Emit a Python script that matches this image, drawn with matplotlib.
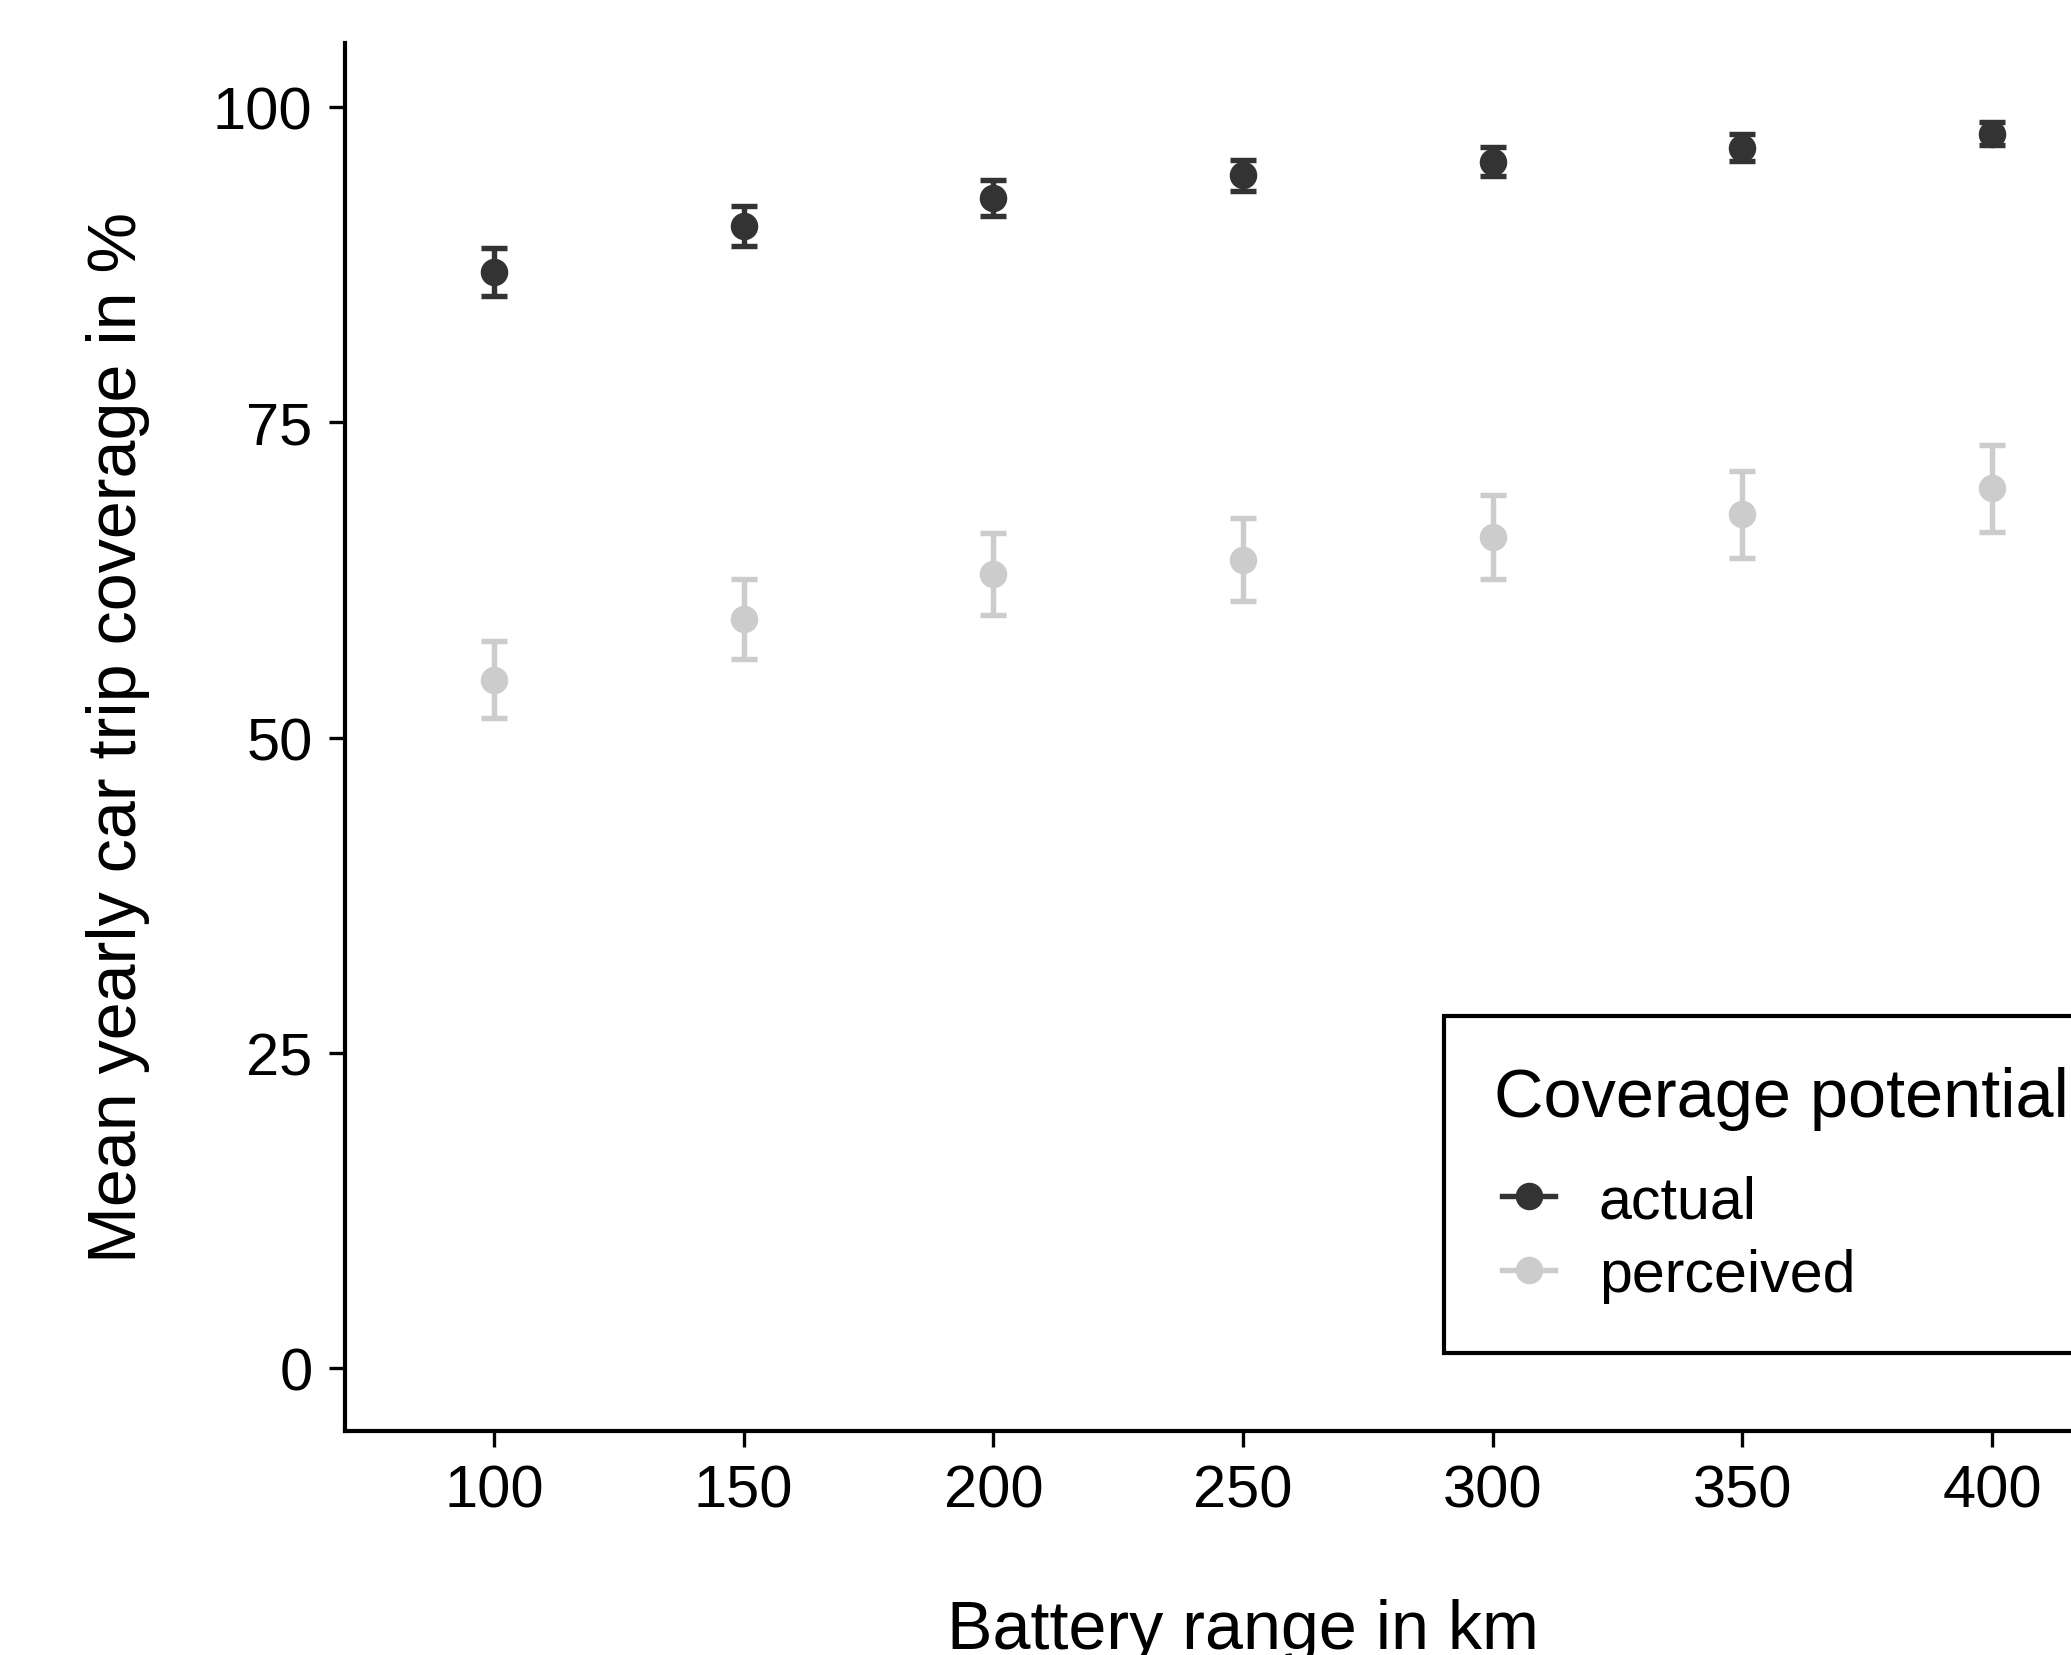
import matplotlib
matplotlib.use("Agg")
import matplotlib.pyplot as plt
from matplotlib.lines import Line2D
from matplotlib.legend_handler import HandlerLine2D

plt.rcParams['font.family'] = ['Liberation Sans', 'DejaVu Sans']

# ---- data ----
battery_range = [100, 150, 200, 250, 300, 350, 400]
actual_mean = [86.9, 90.6, 92.8, 94.6, 95.7, 96.8, 97.9]
actual_err = [1.9, 1.6, 1.45, 1.25, 1.15, 1.05, 0.9]
perceived_mean = [54.6, 59.4, 63.0, 64.1, 65.9, 67.7, 69.8]
perceived_err = [3.05, 3.15, 3.25, 3.3, 3.35, 3.45, 3.45]
series_labels = ["actual", "perceived"]
series_colors = ["#333333", "#cccccc"]
xticks = [100, 150, 200, 250, 300, 350, 400]
yticks = [0, 25, 50, 75, 100]

W, H, DPI = 2071, 1656, 300
fig = plt.figure(figsize=(W / DPI, H / DPI), dpi=DPI)
left, bottom, top = 345 / W, 1 - 1432 / H, 1 - 44 / H
right_px = 2141
ax = fig.add_axes([left, bottom, right_px / W - left, top - bottom])

for means, errs, col in [(actual_mean, actual_err, series_colors[0]),
                         (perceived_mean, perceived_err, series_colors[1])]:
    ax.errorbar(battery_range, means, yerr=errs, fmt='o', color=col,
                ecolor=col, elinewidth=1.3, capsize=3.1, capthick=1.3,
                markersize=5.6, zorder=3)

ax.set_xlim(70.15, 429.85)
ax.set_ylim(-5.0, 105.1)
ax.set_xticks(xticks)
ax.set_yticks(yticks)
ax.set_xticklabels([str(v) for v in xticks])
ax.set_yticklabels([str(v) for v in yticks])

for s in ['top', 'right']:
    ax.spines[s].set_visible(False)
for s in ['left', 'bottom']:
    ax.spines[s].set_linewidth(1.0)
ax.tick_params(axis='both', length=3.8, width=0.8, labelsize=14.3, pad=4.0,
               color='black', labelcolor='black')

ax.set_xlabel("Battery range in km", fontsize=16.4, labelpad=19)
ax.set_ylabel("Mean yearly car trip coverage in %", fontsize=16.4, labelpad=15)

LEG_FS = 14.2
handles = [Line2D([0], [0], color=c, marker='o', markersize=5.6, linewidth=1.3)
           for c in series_colors]
leg = ax.legend(handles, series_labels, title="Coverage potential",
                loc='upper left', bbox_to_anchor=(1444 / W, 1 - 1017 / H),
                bbox_transform=fig.transFigure, fontsize=LEG_FS,
                title_fontsize=16.45, frameon=True, fancybox=False,
                edgecolor='black', framealpha=1, borderpad=12.0 / LEG_FS,
                handlelength=1.03, handletextpad=0.74, labelspacing=0.315,
                borderaxespad=0,
                handler_map={Line2D: HandlerLine2D(xpad=0.14)})
leg._legend_box.align = 'left'
leg.get_frame().set_linewidth(1.0)
leg._legend_box.sep = 10.6

fig.savefig("out.png", dpi=DPI)
